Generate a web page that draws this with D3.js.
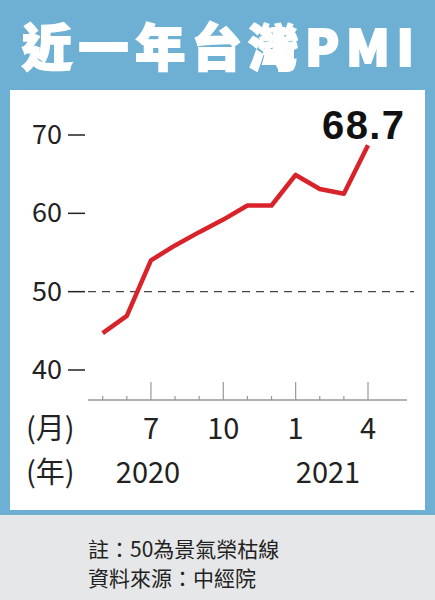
<!DOCTYPE html>
<html><head><meta charset="utf-8">
<script src="https://cdn.jsdelivr.net/npm/d3@7"></script>
<style>body{margin:0;background:#fff}svg{display:block}</style>
</head><body>
<script>
// near-year Taiwan PMI, May 2020 .. Apr 2021
var months = ['5','6','7','8','9','10','11','12','1','2','3','4'];
var pmi = [44.7, 46.9, 54.0, 55.9, 57.6, 59.2, 61.0, 61.0, 64.9, 63.1, 62.5, 68.7];
var yTicks = [40, 50, 60, 70];
var majorMonths = ['7','10','1','4'];

var W = 435, H = 600;
var svg = d3.select('body').append('svg').attr('width', W).attr('height', H);
var font = '"Noto Sans CJK TC", "Liberation Sans", sans-serif';

// frame
svg.append('rect').attr('width', W).attr('height', H).attr('fill', '#6db0d4');
svg.append('rect').attr('x', 10).attr('y', 90).attr('width', 415).attr('height', 420).attr('fill', '#fff');
svg.append('rect').attr('x', 0).attr('y', 515).attr('width', W).attr('height', 85).attr('fill', '#e6e7e8');
svg.append('rect').attr('x', 0).attr('y', 510).attr('width', W).attr('height', 5).attr('fill', '#6db0d4');

svg.append('text').attr('x', 22).attr('y', 66).attr('fill', '#fff')
	.attr('font-family', font).attr('font-weight', 900).attr('font-size', 50)
	.attr('stroke', '#fff').attr('stroke-width', 2).attr('textLength', 392)
	.text('近一年台灣PMI');

var x = d3.scalePoint().domain(months.map(function(d, i) { return i; }))
	.range([102.7, 368]);
var y = d3.scaleLinear().domain([40, 70]).range([370, 135]);

// y ticks
yTicks.forEach(function(t) {
	svg.append('text').attr('x', 62).attr('y', y(t) + 9).attr('text-anchor', 'end')
		.attr('font-family', font).attr('font-size', 27).attr('fill', '#222').text(t);
	svg.append('line').attr('x1', 68).attr('x2', 85).attr('y1', y(t)).attr('y2', y(t))
		.attr('stroke', '#222').attr('stroke-width', 1.5);
});
// 50 line
svg.append('line').attr('x1', 88).attr('x2', 414).attr('y1', y(50)).attr('y2', y(50))
	.attr('stroke', '#444').attr('stroke-width', 1.2).attr('stroke-dasharray', '8,6');

// x axis
var axisY = 400;
svg.append('line').attr('x1', 88).attr('x2', 407).attr('y1', axisY).attr('y2', axisY)
	.attr('stroke', '#999').attr('stroke-width', 1.5);
months.forEach(function(m, i) {
	var major = majorMonths.indexOf(m) > -1;
	svg.append('line').attr('x1', x(i)).attr('x2', x(i))
		.attr('y1', major ? axisY - 18 : axisY - 4).attr('y2', axisY)
		.attr('stroke', '#999').attr('stroke-width', 1.2);
	if (major) {
		svg.append('text').attr('x', x(i)).attr('y', 439).attr('text-anchor', 'middle')
			.attr('font-family', font).attr('font-size', 29).attr('fill', '#222').text(m);
	}
});
svg.append('text').attr('x', 26).attr('y', 439).attr('font-family', font)
	.attr('font-size', 29).attr('fill', '#222').text('(月)');
svg.append('text').attr('x', 26).attr('y', 483).attr('font-family', font)
	.attr('font-size', 29).attr('fill', '#222').text('(年)');
svg.append('text').attr('x', 148).attr('y', 483).attr('text-anchor', 'middle').attr('font-family', font)
	.attr('font-size', 29).attr('fill', '#222').text('2020');
svg.append('text').attr('x', 328).attr('y', 483).attr('text-anchor', 'middle').attr('font-family', font)
	.attr('font-size', 29).attr('fill', '#222').text('2021');

// line
var line = d3.line().x(function(d, i) { return x(i); }).y(function(d) { return y(d); });
svg.append('path').datum(pmi).attr('d', line).attr('fill', 'none')
	.attr('stroke', '#d9232a').attr('stroke-width', 4.5).attr('stroke-linejoin', 'round');

svg.append('text').attr('x', 404).attr('y', 139).attr('text-anchor', 'end')
	.attr('font-family', '"Liberation Sans", sans-serif').attr('font-weight', 'bold')
	.attr('font-size', 40).attr('fill', '#111').attr('textLength', 82).text(pmi[pmi.length - 1]);

// footer
svg.append('text').attr('x', 88).attr('y', 557).attr('font-family', font)
	.attr('font-size', 21).attr('fill', '#222').text('註：50為景氣榮枯線');
svg.append('text').attr('x', 88).attr('y', 586).attr('font-family', font)
	.attr('font-size', 21).attr('fill', '#222').text('資料來源：中經院');
</script>
</body></html>
